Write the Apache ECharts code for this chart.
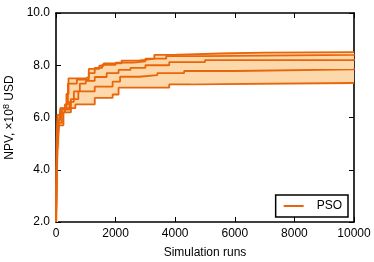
<!DOCTYPE html>
<html><head><meta charset="utf-8">
<script src="https://cdn.jsdelivr.net/npm/echarts@6/dist/echarts.min.js"></script>
<style>html,body{margin:0;padding:0;background:#fff}#c{width:374px;height:262px}</style>
</head><body><div id="c"></div>
<script>
// Best-so-far NPV (x 1e8 USD) vs simulation runs, five PSO runs
const run1 = [[0,2.0],[20,5.0],[50,6.1],[150,6.35],[350,6.9],[420,7.5],[1000,7.55],[1100,7.86],[1450,7.98],[1600,8.07],[2200,8.18],[2800,8.25],[3300,8.4],[4000,8.45],[5500,8.48],[7000,8.5],[10000,8.52]];
const run2 = [[0,2.0],[30,4.8],[60,5.9],[150,6.2],[300,6.5],[400,7.3],[700,7.45],[1100,7.7],[1300,7.9],[1550,8.02],[2000,8.1],[2600,8.15],[3000,8.25],[3700,8.35],[5000,8.4],[10000,8.43]];
const run3 = [[0,2.0],[40,5.0],[80,5.8],[200,6.3],[450,6.6],[600,7.0],[800,7.3],[1000,7.4],[1300,7.55],[1700,7.7],[2100,7.82],[2500,7.9],[3000,8.0],[3800,8.12],[5000,8.2],[10000,8.24]];
const run4 = [[0,2.0],[50,4.8],[100,5.7],[250,6.2],[500,6.7],[750,7.0],[1300,7.18],[1900,7.37],[2150,7.56],[2800,7.62],[3400,7.7],[4300,7.78],[6000,7.84],[10000,7.88]];
const run5 = [[0,2.1],[30,4.5],[60,5.2],[100,5.9],[150,6.36],[650,6.5],[1300,6.75],[1900,6.88],[2100,7.14],[3800,7.27],[4500,7.32],[10000,7.33]];
const runs = [run1, run2, run3, run4, run5];
const seriesName = 'PSO';
const xTicks = {min: 0, max: 10000, interval: 2000};
const yTicks = {min: 2, max: 10, interval: 2};

function valAt(run, x){ let v = run[0][1]; for (const p of run){ if (p[0] <= x) v = p[1]; } return v; }
const grid = Array.from(new Set(runs.flat().map(p => p[0]))).sort((a,b)=>a-b);
// band cells: [xStart, xEnd, min, max]
const bandCells = [];
for (let i = 0; i < grid.length - 1; i++) {
  const x = grid[i], vals = runs.map(r => valAt(r, x));
  bandCells.push([x, grid[i+1], Math.min(...vals), Math.max(...vals)]);
}

const LINE = '#e8650c', FILL = '#fdd8ab';
const chart = echarts.init(document.getElementById('c'), null, {renderer:'canvas'});
const font = 'Liberation Sans';
const axisLine = {show:true, onZero:false, lineStyle:{color:'#000', width:1.6}};
const series = [{
  name:'band', type:'custom', data:bandCells, silent:true, z:1, clip:true,
  encode:{x:[0,1], y:[2,3]},
  renderItem:(params, api) => {
    const p0 = api.coord([api.value(0), api.value(3)]);
    const p1 = api.coord([api.value(1), api.value(2)]);
    return {type:'rect', shape:{x:p0[0], y:p0[1], width:p1[0]-p0[0]+0.6, height:p1[1]-p0[1]},
            style:{fill:FILL, stroke:null}};
  }
}];
runs.forEach(r => series.push({name:seriesName, type:'line', data:r, step:'end', symbol:'none', lineStyle:{color:LINE, width:1.8}, itemStyle:{color:LINE}, z:3}));

chart.setOption({
  animation:false,
  textStyle:{fontFamily:font},
  grid:{left:56, right:20, top:13, bottom:40, outerBoundsMode:'none', containLabel:false},
  legend:{data:[{name:seriesName, icon:'rect'}], right:26, bottom:45, itemWidth:20, itemHeight:2,
    borderColor:'#000', borderWidth:1.5, borderRadius:0, padding:[5,6,5,8],
    textStyle:{fontSize:12, color:'#000', fontFamily:font, padding:[0,0,0,8]}},
  xAxis:[
    {type:'value', min:xTicks.min, max:xTicks.max, interval:xTicks.interval, position:'bottom',
     name:'Simulation runs', nameLocation:'middle', nameGap:25, nameTextStyle:{fontSize:12, color:'#000', fontFamily:font},
     axisLine, axisTick:{inside:true, length:5, lineStyle:{color:'#000'}},
     axisLabel:{fontSize:12, color:'#000', margin:6, fontFamily:font, formatter:v => String(v)}, splitLine:{show:false}},
    {type:'value', min:xTicks.min, max:xTicks.max, interval:xTicks.interval, position:'top',
     axisLine, axisTick:{inside:true, length:5, lineStyle:{color:'#000'}}, axisLabel:{show:false}, splitLine:{show:false}}
  ],
  yAxis:[
    {type:'value', min:yTicks.min, max:yTicks.max, interval:yTicks.interval, position:'left',
     name:'NPV, ×10{sup|8} USD', nameLocation:'middle', nameGap:37, nameRotate:90,
     nameTextStyle:{fontSize:12, color:'#000', fontFamily:font, rich:{sup:{fontSize:9, verticalAlign:'top', padding:[0,0,6,0], fontFamily:font, color:'#000'}}},
     axisLine, axisTick:{inside:true, length:5, lineStyle:{color:'#000'}},
     axisLabel:{fontSize:12, color:'#000', margin:6, fontFamily:font, formatter:v => v.toFixed(1)}, splitLine:{show:false}},
    {type:'value', min:yTicks.min, max:yTicks.max, interval:yTicks.interval, position:'right',
     axisLine, axisTick:{inside:true, length:5, lineStyle:{color:'#000'}}, axisLabel:{show:false}, splitLine:{show:false}}
  ],
  series
});
</script></body></html>
